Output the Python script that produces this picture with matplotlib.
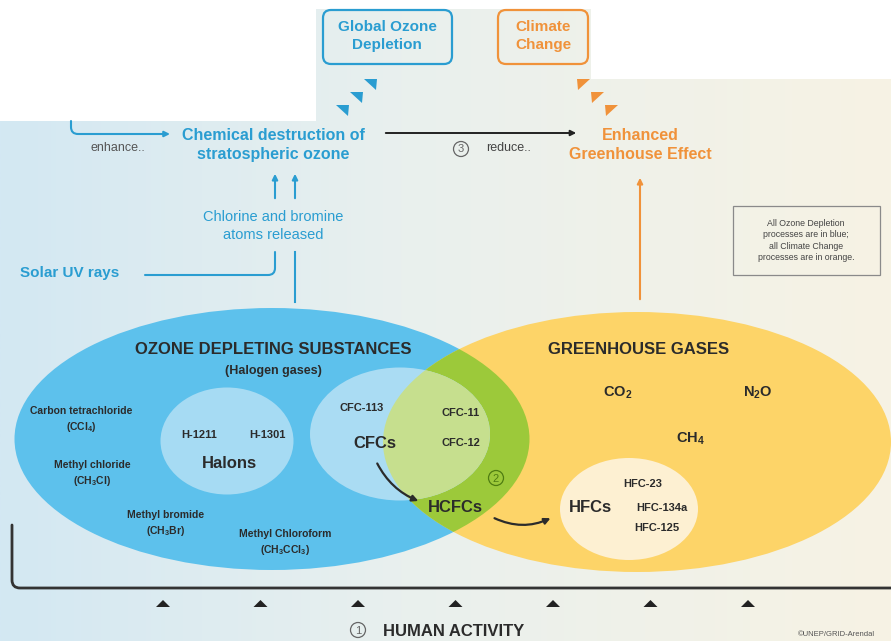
import numpy as np
import matplotlib
matplotlib.use("Agg")
from matplotlib import pyplot as plt
from matplotlib.patches import Ellipse, FancyBboxPatch, Polygon, Circle, Rectangle, FancyArrowPatch
from matplotlib.path import Path

plt.rcParams["font.family"] = ["Liberation Sans", "DejaVu Sans"]
plt.rcParams["mathtext.fontset"] = "custom"
plt.rcParams["mathtext.default"] = "regular"

# ---- diagram content ----
ods_title = "OZONE DEPLETING SUBSTANCES"
ods_subtitle = "(Halogen gases)"
ghg_title = "GREENHOUSE GASES"
other_ods = [
    "Carbon tetrachloride\n(CCl$_4$)",
    "Methyl chloride\n(CH$_3$Cl)",
    "Methyl bromide\n(CH$_3$Br)",
    "Methyl Chloroform\n(CH$_3$CCl$_3$)",
]
halons = ["H-1211", "H-1301"]
cfc_only = ["CFC-113"]
cfc_shared = ["CFC-11", "CFC-12"]
hfcs = ["HFC-23", "HFC-134a", "HFC-125"]
ghg_other = ["CO$_2$", "N$_2$O", "CH$_4$"]
group_names = ["Halons", "CFCs", "HCFCs", "HFCs"]
n_activity = 7
legend_lines = [
    "All Ozone Depletion",
    "processes are in blue;",
    "all Climate Change",
    "processes are in orange.",
]

# ---- layout (pixel coordinates, y down) ----
W, H = 891, 641
other_ods_xy = [(81, 420), (92, 474), (166, 524), (285, 543)]
halons_xy = [(199, 435), (267, 435)]
cfc_only_xy = [(362, 408)]
cfc_shared_xy = [(461, 413), (461, 443)]
hfcs_xy = [(643, 484), (662, 508), (657, 528)]
ghg_other_xy = [(618, 393), (758, 393), (690, 439)]
group_xy = [(229, 464), (375, 444), (455, 508), (590, 507)]
activity_x0, activity_dx = 163, 97.5

BLUE = "#2a9dd1"
ORANGE = "#f0923a"
DARK = "#2b2b2b"

fig = plt.figure(figsize=(W / 100, H / 100), dpi=100)
ax = fig.add_axes([0, 0, 1, 1])
ax.set_xlim(0, W)
ax.set_ylim(H, 0)
ax.axis("off")

# background gradient, left blue -> right cream
stops = np.array([[211, 232, 243], [233, 240, 238], [247, 243, 228]]) / 255
xs = np.linspace(0, 1, 300)
grad = np.stack([np.interp(xs, [0, 0.45, 1], stops[:, c]) for c in range(3)], axis=-1)
ax.imshow(grad[None, :, :], extent=[0, W, H, 0], aspect="auto", zorder=0)
for x, y, w, h in [(0, 0, 316, 121), (316, 0, 275, 9), (591, 0, 300, 79)]:
    ax.add_patch(Rectangle((x, y), w, h, fc="white", ec="none", zorder=1))

# ellipses
blue_ell = Ellipse((272, 439), 515, 262, fc="#5dc1ec", ec="none", zorder=2)
orange_ell = Ellipse((637, 442), 508, 260, fc="#fdd468", ec="none", zorder=2)
ax.add_patch(blue_ell)
ax.add_patch(orange_ell)
green = Ellipse((272, 439), 515, 262, fc="#9cc93a", ec="none", zorder=3)
ax.add_patch(green)
green.set_clip_path(orange_ell)
ax.add_patch(Ellipse((227, 441), 133, 107, fc="#a6dbf3", ec="none", zorder=4))
cfc_circ = Ellipse((400, 434), 180, 133, fc="#aadcf3", ec="none", zorder=4)
ax.add_patch(cfc_circ)
light_green = Ellipse((400, 434), 180, 133, fc="#c6df8e", ec="none", zorder=5)
ax.add_patch(light_green)
light_green.set_clip_path(orange_ell)
ax.add_patch(Ellipse((629, 509), 138, 102, fc="#fdf0d2", ec="none", zorder=4))

# ellipse texts
ax.text(273, 349, ods_title, ha="center", va="center", fontsize=12, weight="bold", color=DARK, zorder=6)
ax.text(273, 371, ods_subtitle, ha="center", va="center", fontsize=9, weight="bold", color=DARK, zorder=6)
ax.text(639, 349, ghg_title, ha="center", va="center", fontsize=12, weight="bold", color=DARK, zorder=6)
for s, (x, y) in zip(other_ods, other_ods_xy):
    ax.text(x, y, s, ha="center", va="center", fontsize=7.5, weight="bold", color=DARK,
            linespacing=1.35, zorder=6)
for labels, pos in [(halons, halons_xy), (cfc_only, cfc_only_xy),
                    (cfc_shared, cfc_shared_xy), (hfcs, hfcs_xy)]:
    for s, (x, y) in zip(labels, pos):
        ax.text(x, y, s, ha="center", va="center", fontsize=8, weight="bold", color=DARK, zorder=6)
for s, (x, y) in zip(ghg_other, ghg_other_xy):
    ax.text(x, y, s, ha="center", va="center", fontsize=10.5, weight="bold", color=DARK, zorder=6)
for s, (x, y) in zip(group_names, group_xy):
    ax.text(x, y, s, ha="center", va="center", fontsize=12, weight="bold", color=DARK, zorder=6)

# substitution arrows
ax.add_patch(FancyArrowPatch((376, 461), (421, 502), connectionstyle="arc3,rad=0.2",
                             arrowstyle="-|>", mutation_scale=9, color=DARK, lw=1.6, zorder=6))
ax.add_patch(FancyArrowPatch((492, 517), (553, 517), connectionstyle="arc3,rad=0.25",
                             arrowstyle="-|>", mutation_scale=9, color=DARK, lw=1.6, zorder=6))


def circled(x, y, n, color, fs=8):
    ax.add_patch(Circle((x, y), 7.5, fill=False, ec=color, lw=0.9, zorder=7))
    ax.text(x, y + 0.5, str(n), ha="center", va="center", fontsize=fs, color=color, zorder=7)


circled(496, 478, 2, "#4f7d12")
circled(461, 149, 3, "#666666")
circled(358, 630, 1, "#666666")

# human activity bracket and triangles
bracket = Path([(12, 525), (12, 580), (12, 588), (20, 588), (W, 588)],
               [Path.MOVETO, Path.LINETO, Path.CURVE3, Path.CURVE3, Path.LINETO])
ax.add_patch(FancyArrowPatch(path=bracket, arrowstyle="-", color="#333333", lw=2, zorder=6))
for i in range(n_activity):
    x = activity_x0 + i * activity_dx
    ax.add_patch(Polygon([(x - 7, 607), (x + 7, 607), (x, 600)], closed=True, fc="#222222",
                         ec="none", zorder=6))
ax.text(383, 631, "HUMAN ACTIVITY", ha="left", va="center", fontsize=12, weight="bold", color=DARK)
ax.text(798, 635, "©UNEP/GRID-Arendal", ha="left", va="center", fontsize=5.5, color="#555555")

# top boxes
ax.add_patch(FancyBboxPatch((323, 10), 129, 54, boxstyle="round,pad=0,rounding_size=8",
                            fc="none", ec=BLUE, lw=1.6, zorder=6))
ax.text(387, 36, "Global Ozone\nDepletion", ha="center", va="center", fontsize=11,
        weight="bold", color=BLUE, linespacing=1.45, zorder=6)
ax.add_patch(FancyBboxPatch((498, 10), 90, 54, boxstyle="round,pad=0,rounding_size=8",
                            fc="none", ec=ORANGE, lw=1.6, zorder=6))
ax.text(543, 36, "Climate\nChange", ha="center", va="center", fontsize=11,
        weight="bold", color=ORANGE, linespacing=1.45, zorder=6)
for x, y in [(371, 84), (357, 97), (343, 110)]:
    ax.add_patch(Polygon([(x - 7, y - 5), (x + 6, y - 5), (x + 5, y + 6)], closed=True,
                         fc=BLUE, ec="none", zorder=6))
for x, y in [(583, 84), (597, 97), (611, 110)]:
    ax.add_patch(Polygon([(x - 6, y - 5), (x + 7, y - 5), (x - 5, y + 6)], closed=True,
                         fc=ORANGE, ec="none", zorder=6))

# process texts
ax.text(273, 145, "Chemical destruction of\nstratospheric ozone", ha="center", va="center",
        fontsize=11.5, weight="bold", color=BLUE, linespacing=1.3, zorder=6)
ax.text(640, 145, "Enhanced\nGreenhouse Effect", ha="center", va="center",
        fontsize=11.5, weight="bold", color=ORANGE, linespacing=1.3, zorder=6)
ax.text(118, 148, "enhance..", ha="center", va="center", fontsize=9, color="#555555")
ax.text(486, 148, "reduce..", ha="left", va="center", fontsize=9, color="#444444")
ax.text(273, 226, "Chlorine and bromine\natoms released", ha="center", va="center",
        fontsize=10.5, color=BLUE, linespacing=1.3)
ax.text(70, 273, "Solar UV rays", ha="center", va="center", fontsize=11, weight="bold", color=BLUE)
leg = "\n".join(legend_lines)
ax.add_patch(Rectangle((733, 206), 147, 69, fill=False, ec="#8a8a8a", lw=0.9, zorder=6))
ax.text(806, 240.5, leg, ha="center", va="center", fontsize=6.3, color="#444444",
        linespacing=1.35, zorder=6)

# connector arrows
enh = Path([(71, 121), (71, 127), (71, 134), (78, 134), (170, 134)],
           [Path.MOVETO, Path.LINETO, Path.CURVE3, Path.CURVE3, Path.LINETO])
ax.add_patch(FancyArrowPatch(path=enh, arrowstyle="-|>", mutation_scale=8, color=BLUE, lw=1.5, zorder=6))
uv = Path([(145, 275), (268, 275), (275, 275), (275, 268), (275, 252)],
          [Path.MOVETO, Path.LINETO, Path.CURVE3, Path.CURVE3, Path.LINETO])
ax.add_patch(FancyArrowPatch(path=uv, arrowstyle="-", color=BLUE, lw=1.5, zorder=6))
ax.plot([295, 295], [252, 302], color=BLUE, lw=1.5, zorder=6)
for x in [275, 295]:
    ax.annotate("", xy=(x, 171), xytext=(x, 201),
                arrowprops=dict(arrowstyle="-|>", color=BLUE, lw=1.5, mutation_scale=8))
ax.annotate("", xy=(640, 175), xytext=(640, 302),
            arrowprops=dict(arrowstyle="-|>", color=ORANGE, lw=1.5, mutation_scale=8))
ax.annotate("", xy=(579, 133), xytext=(383, 133),
            arrowprops=dict(arrowstyle="-|>", color="#222222", lw=1.4, mutation_scale=8))

fig.savefig("out.png", dpi=100)
